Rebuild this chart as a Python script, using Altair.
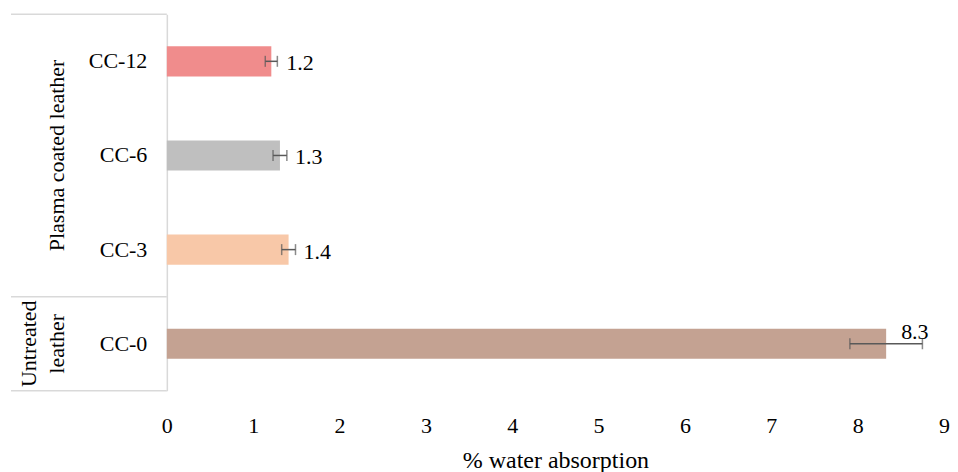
import altair as alt
import pandas as pd

# ---- data ----
categories = ["CC-12", "CC-6", "CC-3", "CC-0"]
groups = ["Plasma coated leather", "Plasma coated leather", "Plasma coated leather", "Untreated leather"]
values = [1.21, 1.31, 1.41, 8.33]
errors = [0.07, 0.08, 0.08, 0.42]
labels = ["1.2", "1.3", "1.4", "8.3"]
colors = ["#F08C8C", "#BFBFBF", "#F8C8A8", "#C4A292"]
x_ticks = list(range(0, 10))
group_names = ["Plasma coated leather", "Untreated leather"]
group_text = ["Plasma coated leather", "Untreated\nleather"]
raised_labels = ["CC-0"]

W, H = 778, 377
FONT = "Liberation Serif"
GRAY = "#D9D9D9"
ERR = "#595959"
LINE_H = 28

df = pd.DataFrame({"cat": categories, "group": groups, "value": values,
                   "err": errors, "label": labels, "color": colors})
df["lo"] = df["value"] - df["err"]
df["hi"] = df["value"] + df["err"]

# group anchors (middle member) and boundaries
anchors, bounds, count = [], [0.0], 0
for g in group_names:
    members = [c for c, gg in zip(categories, groups) if gg == g]
    anchors.append(members[len(members) // 2])
    count += len(members)
    bounds.append(H * count / len(categories))

yscale = alt.Scale(domain=categories, paddingInner=0.68, paddingOuter=0.34)
ycat = alt.Y("cat:N", sort=categories, scale=yscale, title=None)

base = alt.Chart(df)

bars = base.mark_bar().encode(
    x=alt.X("value:Q", scale=alt.Scale(domain=[0, 9], nice=False),
            axis=alt.Axis(values=x_ticks, format="d", labelFlush=False,
                          title="% water absorption")),
    y=ycat,
    color=alt.Color("color:N", scale=None),
)

err_line = base.mark_rule(color=ERR, strokeWidth=1.5).encode(x="lo:Q", x2="hi:Q", y=ycat)
cap_lo = base.mark_tick(color=ERR, thickness=1.5, size=11).encode(x="lo:Q", y=ycat)
cap_hi = base.mark_tick(color=ERR, thickness=1.5, size=11).encode(x="hi:Q", y=ycat)

cond = " || ".join(f"datum.cat === '{c}'" for c in raised_labels)
txt = base.transform_filter(f"!({cond})").mark_text(
    align="left", baseline="middle", dx=15, dy=2, fontSize=22, font=FONT, color="black"
).encode(x="value:Q", y=ycat, text="label:N")
txt_raised = base.transform_filter(cond).mark_text(
    align="left", baseline="middle", dx=15, dy=-12, fontSize=22, font=FONT, color="black"
).encode(x="value:Q", y=ycat, text="label:N")

one = pd.DataFrame({"k": [0]})
group_lines = [
    alt.Chart(one).mark_rule(color=GRAY, strokeWidth=1.5).encode(
        x=alt.value(-156), x2=alt.value(0), y=alt.value(b))
    for b in bounds
]

group_labels = []
for anchor, gtext in zip(anchors, group_text):
    nlines = gtext.count("\n") + 1
    gdf = pd.DataFrame({"cat": [anchor], "group": [gtext]})
    group_labels.append(
        alt.Chart(gdf).mark_text(
            angle=270, align="center", baseline="bottom", fontSize=22, font=FONT,
            lineHeight=LINE_H, lineBreak="\n", color="black"
        ).encode(y=ycat, x=alt.value(-98 - (nlines - 1) * LINE_H), text="group:N")
    )

chart = alt.layer(bars, err_line, cap_lo, cap_hi, txt, txt_raised, *group_labels, *group_lines).properties(
    width=W, height=H,
    padding={"left": 2, "top": 5, "right": 0, "bottom": 0},
    background="white",
).configure_view(stroke=None).configure_axisX(
    domain=False, ticks=False, grid=False, labelFont=FONT, labelFontSize=22,
    labelColor="black", labelPadding=25, titleFont=FONT, titleFontSize=24,
    titleFontWeight="normal", titleColor="black", titlePadding=12,
).configure_axisY(
    domainColor=GRAY, domainWidth=1.5, ticks=False, grid=False, labelFont=FONT,
    labelFontSize=22, labelColor="black", labelPadding=20,
)

chart.save("out.html", embed_options={"renderer": "svg", "actions": False})
